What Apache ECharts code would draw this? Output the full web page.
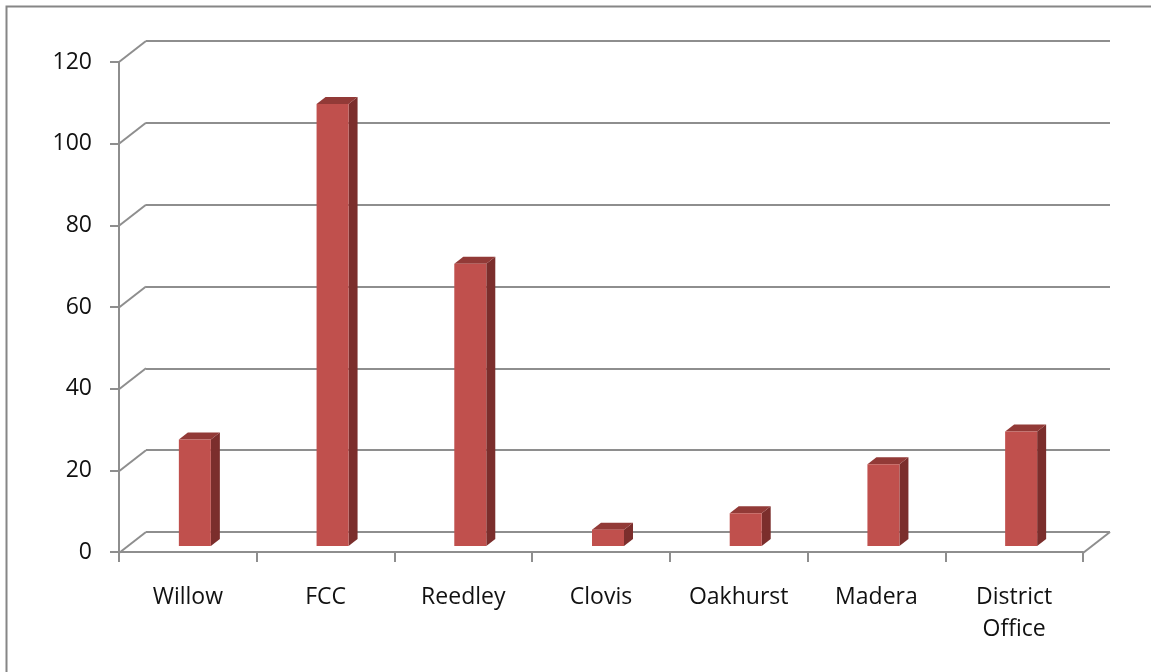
<!DOCTYPE html>
<html>
<head>
<meta charset="utf-8">
<script src="https://cdn.jsdelivr.net/npm/echarts@6/dist/echarts.min.js"></script>
<style>
  html, body { margin: 0; padding: 0; background: #fff; }
  #chart { width: 1151px; height: 672px; }
</style>
</head>
<body>
<div id="chart"></div>
<script>
// campus counts
var campuses = ['Willow', 'FCC', 'Reedley', 'Clovis', 'Oakhurst', 'Madera', 'District Office'];
var counts = [26, 108, 69, 4, 8, 20, 28];
var yTicks = [0, 20, 40, 60, 80, 100, 120];

var gridColor = '#8e8e8e';
var depthX = 27, depthY = -21;   // back wall vs front plane
var barOff = [-20, 14];          // bar front face relative to back wall
var barDepth = [9, -7];
var barW = 32;

var myChart = echarts.init(document.getElementById('chart'));

// 3D-ish column
function renderBar(params, api) {
    var base = api.coord([api.value(0), 0]);
    var top = api.coord([api.value(0), api.value(1)]);
    var x0 = base[0] + barOff[0] - barW / 2;
    var x1 = x0 + barW;
    var yb = base[1] + barOff[1];
    var yt = top[1] + barOff[1];
    return {
        type: 'group',
        children: [
            {
                type: 'polygon',
                shape: { points: [[x1, yt], [x1, yb], [x1 + barDepth[0], yb + barDepth[1]], [x1 + barDepth[0], yt + barDepth[1]]] },
                style: { fill: '#7b2e2c' }
            },
            {
                type: 'polygon',
                shape: { points: [[x0, yt], [x1, yt], [x1 + barDepth[0], yt + barDepth[1]], [x0 + barDepth[0], yt + barDepth[1]]] },
                style: { fill: '#923a37' }
            },
            {
                type: 'rect',
                shape: { x: x0, y: yt, width: barW, height: yb - yt },
                style: { fill: '#c0504d' }
            }
        ]
    };
}

// diagonals joining back wall and front axes
function renderEdge(params, api) {
    var band = api.size([1, 0])[0];
    var p = api.coord([0, api.value(1)]);
    var xl = p[0] - band / 2;
    var kids = [{
        type: 'line',
        shape: { x1: xl, y1: p[1], x2: xl - depthX, y2: p[1] - depthY },
        style: { stroke: gridColor, lineWidth: 2 }
    }];
    if (api.value(1) === 0) {
        var q = api.coord([campuses.length - 1, 0]);
        var xr = q[0] + band / 2;
        kids.push({
            type: 'line',
            shape: { x1: xr, y1: q[1], x2: xr - depthX, y2: q[1] - depthY },
            style: { stroke: gridColor, lineWidth: 2 }
        });
    }
    return { type: 'group', children: kids };
}

var option = {
    backgroundColor: '#fff',
    animation: false,
    textStyle: { fontFamily: 'Open Sans' },
    graphic: [{
        type: 'rect',
        left: 4, top: 4,
        shape: { width: 1300, height: 800 },
        style: { fill: 'none', stroke: '#868686', lineWidth: 2 },
        z: -10
    }],
    grid: [
        // back wall
        { left: 146, right: 41, top: 41, bottom: 140 },
        // front plane
        { left: 119, right: 68, top: 62, bottom: 120 }
    ],
    xAxis: [
        {
            gridIndex: 0, type: 'category', data: campuses,
            axisLine: { show: false }, axisTick: { show: false }, axisLabel: { show: false }
        },
        {
            gridIndex: 1, type: 'category', data: campuses,
            axisLine: { show: true, lineStyle: { color: gridColor, width: 2 } },
            axisTick: { show: true, length: 10, lineStyle: { color: gridColor, width: 2 } },
            axisLabel: {
                margin: 29, fontSize: 23, color: '#111', lineHeight: 32, fontFamily: 'Open Sans',
                formatter: function (v) { return v.replace(' ', '\n'); }
            }
        }
    ],
    yAxis: [
        {
            gridIndex: 0, type: 'value', min: 0, max: 120, interval: 20,
            axisLine: { show: false }, axisTick: { show: false }, axisLabel: { show: false },
            splitLine: { show: true, lineStyle: { color: gridColor, width: 2 } }
        },
        {
            gridIndex: 1, type: 'value', min: 0, max: 120, interval: 20,
            axisLine: { show: true, lineStyle: { color: gridColor, width: 2 } },
            axisTick: { show: true, length: 9, lineStyle: { color: gridColor, width: 2 } },
            axisLabel: { margin: 27, fontSize: 23, color: '#111', fontFamily: 'Open Sans' },
            splitLine: { show: false }
        }
    ],
    series: [
        {
            type: 'custom',
            xAxisIndex: 0, yAxisIndex: 0,
            renderItem: renderEdge,
            data: yTicks.map(function (v) { return [0, v]; }),
            silent: true,
            z: 1
        },
        {
            type: 'custom',
            xAxisIndex: 0, yAxisIndex: 0,
            renderItem: renderBar,
            data: campuses.map(function (c, i) { return [i, counts[i]]; }),
            z: 5
        }
    ]
};
myChart.setOption(option);
</script>
</body>
</html>
